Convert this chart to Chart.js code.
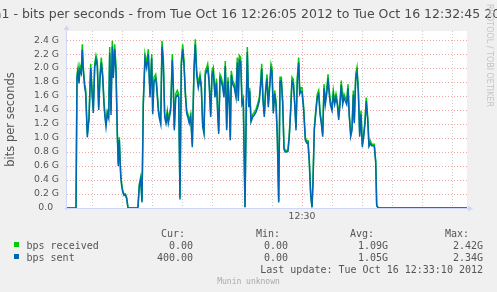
<!DOCTYPE html>
<html>
<head>
<meta charset="utf-8">
<script src="https://cdn.jsdelivr.net/npm/chart.js"></script>
<style>
  html, body { margin: 0; padding: 0; background: #f0f0f0; }
  canvas { display: block; }
</style>
</head>
<body>
<canvas id="myChart" width="497" height="292"></canvas>
<script>
// texts
var titleText = 'eth1 - bits per seconds - from Tue Oct 16 12:26:05 2012 to Tue Oct 16 12:32:45 2012';
var yAxisTitle = 'bits per seconds';
var creditText = 'RRDTOOL / TOBI OETIKER';
var footerText = 'Munin unknown';
var lastUpdate = 'Last update: Tue Oct 16 12:33:10 2012';

// legend
var seriesNames = ['bps received', 'bps sent'];
var seriesColors = ['#00cc00', '#0066b3'];
var statHeads = ['Cur:', 'Min:', 'Avg:', 'Max:'];
var statsReceived = ['0.00', '0.00', '1.09G', '2.42G'];
var statsSent = ['400.00', '0.00', '1.05G', '2.34G'];

// ticks: seconds after 12:26:05, values in G
var xGridSecs = [25, 55, 85, 115, 145, 175, 205, 235, 265, 295, 325, 355, 385];
var xMajorSec = 235;
var xMajorLabel = '12:30';
var yGridValues = [0, 0.1, 0.2, 0.3, 0.4, 0.5, 0.6, 0.7, 0.8, 0.9, 1.0, 1.1, 1.2,
  1.3, 1.4, 1.5, 1.6, 1.7, 1.8, 1.9, 2.0, 2.1, 2.2, 2.3, 2.4, 2.5];
var yTickLabels = ['0.0  ', '0.2 G', '0.4 G', '0.6 G', '0.8 G', '1.0 G', '1.2 G',
  '1.4 G', '1.6 G', '1.8 G', '2.0 G', '2.2 G', '2.4 G'];

// data (seconds after 12:26:05, Gbit/s)
var secs = [0, 9, 10, 11, 12, 13, 14.3, 15.3, 16.3, 17.7,
  18.7, 20.3, 22, 23.7, 25.3, 26.3, 27.7, 29, 30.3, 31.7,
  33, 34.3, 35.7, 37, 38, 39, 40.3, 41.7, 42.7, 44,
  45.3, 46.3, 47.7, 49, 50.3, 51.3, 52.3, 53.7, 54.7, 55.7,
  57, 58.3, 59.7, 61, 70, 71, 72.3, 73.7, 75, 76.3,
  78, 79.7, 81.3, 83, 84.7, 85.7, 87, 88.7, 89.7, 91.3,
  92.3, 93.7, 95, 96.3, 97.7, 99, 100.3, 101.3, 102.3, 103.7,
  105.3, 106.3, 107.3, 108.7, 110.3, 111.7, 113, 114.3, 115.7, 117,
  118.3, 119.7, 121, 122.3, 123.7, 125.3, 127, 128.3, 129.7, 131.3,
  133, 134.3, 135.7, 137, 138.3, 139.7, 140.7, 142, 143.7, 145,
  146.3, 148, 149.5, 150.7, 151.7, 153, 154.3, 155.7, 157, 158.3,
  159.7, 161, 162.3, 163.3, 164.3, 165.7, 167.3, 169, 170.3, 171.3,
  172.3, 173.7, 175, 176.3, 178, 179.3, 180.3, 181.7, 182.7, 184,
  185.7, 187.3, 189, 190.7, 192.3, 193.7, 194.7, 196, 197.3, 198.7,
  200, 201.3, 202.7, 204, 205, 206.3, 207.7, 209, 210.3, 211.7,
  213, 214.3, 215.7, 217, 218.3, 219.7, 221, 222.3, 223.7, 225,
  226.3, 227.7, 229, 230.3, 231.7, 232.7, 234, 235, 236.7, 238.3,
  239.7, 241, 242.3, 243.7, 245, 246, 247.3, 248.7, 250.3, 251.7,
  253, 254.3, 255.7, 257, 258.3, 259.7, 261, 262, 263.3, 265,
  266.3, 267.7, 269, 270.3, 271.7, 273, 274.3, 275.7, 277, 278.3,
  279.7, 281, 282.3, 283.7, 285, 286.3, 287.3, 288.7, 290, 291.3,
  292.7, 294, 295.3, 296.7, 298, 299.3, 300.7, 302, 303.3, 304.7,
  306, 307.3, 308.7, 309.7, 310.7, 311.7, 400];

var received = [0, 0, 1.91, 2.01, 1.82, 2.03, 1.96, 2.34, 2.01, 1.77,
  1.70, 1.06, 1.30, 2.06, 1.63, 1.41, 2.06, 2.18, 2.10, 1.44,
  1.91, 2.15, 1.91, 1.53, 1.34, 1.20, 1.39, 1.34, 2.30, 1.39,
  2.39, 1.91, 2.34, 2.01, 1.10, 0.63, 1.01, 0.49, 0.34, 0.25,
  0.20, 0.20, 0.15, 0, 0, 0.02, 0.34, 0.44, 0.10, 1.53,
  2.20, 2.06, 2.27, 1.63, 2.20, 1.39, 1.87, 1.91, 1.77, 1.44,
  1.34, 1.25, 2.39, 2.15, 1.34, 1.25, 1.39, 1.25, 1.34, 1.44,
  2.20, 1.77, 1.15, 1.63, 1.68, 1.63, 0.15, 2.10, 2.34, 2.10,
  1.68, 1.39, 1.34, 1.25, 1.34, 0.91, 2.01, 2.41, 1.96, 1.77,
  1.91, 1.77, 1.20, 1.10, 1.96, 2.01, 2.06, 1.87, 1.34, 1.96,
  2.01, 1.63, 1.85, 1.39, 1.10, 1.91, 1.87, 1.77, 1.63, 2.10,
  1.15, 1.87, 1.53, 1.01, 1.96, 1.82, 1.77, 1.63, 2.15, 1.58,
  2.18, 2.15, 1.53, 1.58, 0.01, 1.53, 2.30, 1.49, 1.72, 1.27,
  1.34, 1.37, 1.41, 1.49, 1.58, 1.82, 2.06, 1.58, 1.34, 1.72,
  1.91, 1.49, 1.77, 2.06, 2.01, 1.39, 1.68, 1.53, 1.06, 0.10,
  1.87, 1.87, 1.53, 0.87, 0.82, 0.82, 0.84, 1.06, 1.44, 1.87,
  1.84, 1.53, 1.15, 1.87, 2.15, 1.68, 1.72, 1.72, 1.44, 1.01,
  0.96, 0.96, 0.68, 0.20, 0.01, 0.39, 1.15, 1.39, 1.63, 1.68,
  1.39, 1.25, 1.06, 1.77, 1.53, 1.68, 1.91, 1.72, 1.53, 1.44,
  1.68, 1.53, 1.63, 1.53, 1.30, 1.53, 1.82, 1.53, 1.63, 1.58,
  1.53, 1.77, 1.34, 1.06, 1.15, 1.68, 1.25, 1.91, 2.01, 1.72,
  1.06, 1.39, 0.91, 1.06, 1.25, 1.58, 1.30, 0.91, 0.96, 0.91,
  0.91, 0.91, 0.68, 0.05, 0.02, 0, 0];

var sent = [0, 0, 1.86, 1.95, 1.78, 1.97, 1.92, 2.26, 1.96, 1.72,
  1.64, 1.01, 1.27, 2.00, 1.58, 1.36, 2.01, 2.12, 2.03, 1.40,
  1.85, 2.08, 1.86, 1.47, 1.29, 1.16, 1.35, 1.28, 2.22, 1.33,
  2.31, 1.86, 2.27, 1.95, 1.05, 0.60, 0.97, 0.46, 0.31, 0.23,
  0.18, 0.19, 0.13, 0, 0, 0.01, 0.31, 0.41, 0.08, 1.47,
  2.13, 2.00, 2.20, 1.58, 2.14, 1.34, 1.81, 1.85, 1.72, 1.39,
  1.29, 1.20, 2.31, 2.08, 1.30, 1.21, 1.34, 1.21, 1.29, 1.39,
  2.12, 1.72, 1.11, 1.57, 1.62, 1.58, 0.12, 2.03, 2.27, 2.04,
  1.63, 1.35, 1.29, 1.21, 1.30, 0.87, 1.95, 2.34, 1.90, 1.72,
  1.85, 1.72, 1.16, 1.06, 1.90, 1.96, 1.99, 1.81, 1.30, 1.90,
  1.95, 1.58, 1.79, 1.34, 1.06, 1.85, 1.81, 1.72, 1.58, 2.03,
  1.11, 1.81, 1.48, 0.97, 1.90, 1.77, 1.72, 1.58, 2.08, 1.53,
  2.11, 2.09, 1.48, 1.53, 0.01, 1.47, 2.23, 1.44, 1.67, 1.23,
  1.30, 1.33, 1.37, 1.44, 1.53, 1.76, 1.99, 1.53, 1.30, 1.67,
  1.85, 1.44, 1.72, 1.99, 1.95, 1.35, 1.63, 1.48, 1.02, 0.08,
  1.81, 1.82, 1.48, 0.84, 0.80, 0.80, 0.81, 1.02, 1.39, 1.81,
  1.78, 1.48, 1.11, 1.81, 2.08, 1.63, 1.67, 1.66, 1.39, 0.97,
  0.93, 0.94, 0.65, 0.18, 0.01, 0.36, 1.11, 1.34, 1.58, 1.62,
  1.34, 1.21, 1.02, 1.71, 1.48, 1.63, 1.85, 1.67, 1.48, 1.39,
  1.62, 1.48, 1.58, 1.48, 1.26, 1.48, 1.76, 1.48, 1.58, 1.53,
  1.48, 1.71, 1.30, 1.02, 1.11, 1.62, 1.21, 1.84, 1.94, 1.67,
  1.02, 1.34, 0.87, 1.02, 1.21, 1.53, 1.26, 0.88, 0.92, 0.89,
  0.89, 0.88, 0.65, 0.03, 0.01, 0, 0];

var majorGrid = 'rgba(230, 90, 90, 0.55)';
var minorGrid = 'rgba(140, 140, 140, 0.45)';
var axisColor = '#cfd6f8';
var fontColor = '#555555';

function points(values) {
  return secs.map(function (s, i) { return { x: s, y: values[i] }; });
}

// background, axes with arrows, title and the munin legend
var muninLook = {
  id: 'muninLook',
  beforeDraw: function (chart) {
    var ctx = chart.ctx, a = chart.chartArea;
    ctx.save();
    ctx.fillStyle = '#f0f0f0';
    ctx.fillRect(0, 0, chart.width, chart.height);
    ctx.fillStyle = '#ffffff';
    ctx.fillRect(a.left - 1, a.top, a.right - a.left + 1, a.bottom - a.top);
    ctx.restore();
  },
  afterDatasetsDraw: function (chart) {
    var ctx = chart.ctx, a = chart.chartArea;
    var x0 = a.left - 0.5, y0 = a.bottom + 0.5;
    ctx.save();
    ctx.strokeStyle = axisColor;
    ctx.fillStyle = axisColor;
    ctx.lineWidth = 1;
    ctx.beginPath();
    ctx.moveTo(x0, y0 + 2);
    ctx.lineTo(x0, a.top - 1);
    ctx.moveTo(x0 - 2, y0);
    ctx.lineTo(a.right + 1, y0);
    ctx.stroke();
    ctx.beginPath();
    ctx.moveTo(x0 - 3, a.top - 1);
    ctx.lineTo(x0 + 3, a.top - 1);
    ctx.lineTo(x0, a.top - 6);
    ctx.closePath();
    ctx.fill();
    ctx.beginPath();
    ctx.moveTo(a.right + 1, y0 - 3);
    ctx.lineTo(a.right + 1, y0 + 3);
    ctx.lineTo(a.right + 6, y0);
    ctx.closePath();
    ctx.fill();
    ctx.restore();
  },
  afterDraw: function (chart) {
    var ctx = chart.ctx;
    ctx.save();
    // title
    ctx.fillStyle = '#4a4a4a';
    ctx.font = '12.5px "DejaVu Sans"';
    ctx.textAlign = 'center';
    ctx.textBaseline = 'alphabetic';
    ctx.fillText(titleText, chart.width / 2, 17.5);

    // rrdtool credit
    ctx.save();
    ctx.translate(489, 4);
    ctx.rotate(Math.PI / 2);
    ctx.fillStyle = '#c4c4c4';
    ctx.font = '8px "DejaVu Sans"';
    ctx.textAlign = 'left';
    ctx.textBaseline = 'middle';
    ctx.fillText(creditText, 0, 0);
    ctx.restore();

    // legend
    ctx.font = '10px "DejaVu Sans Mono"';
    ctx.fillStyle = fontColor;
    ctx.textAlign = 'right';
    var headX = [185, 280, 374, 469];
    var valX = [193, 288, 388, 483];
    statHeads.forEach(function (h, i) { ctx.fillText(h, headX[i], 237); });
    var rows = [statsReceived, statsSent];
    var rowY = [249, 261];
    rows.forEach(function (vals, r) {
      ctx.fillStyle = seriesColors[r];
      ctx.fillRect(14, rowY[r] - 7, 5, 5);
      ctx.fillStyle = fontColor;
      ctx.textAlign = 'left';
      ctx.fillText(seriesNames[r], 26.5, rowY[r]);
      ctx.textAlign = 'right';
      vals.forEach(function (v, i) { ctx.fillText(v, valX[i], rowY[r]); });
    });
    ctx.fillText(lastUpdate, 483, 273);

    ctx.font = '8px "DejaVu Sans Mono"';
    ctx.fillStyle = '#aaaaaa';
    ctx.textAlign = 'center';
    ctx.fillText(footerText, 248.5, 283.5);
    ctx.restore();
  }
};

var ctx = document.getElementById('myChart');
var myChart = new Chart(ctx, {
  type: 'line',
  data: {
    datasets: [
      {
        label: seriesNames[0],
        data: points(received),
        borderColor: seriesColors[0],
        borderWidth: 1.5,
        pointRadius: 0,
        tension: 0,
        fill: false,
        order: 1
      },
      {
        label: seriesNames[1],
        data: points(sent),
        borderColor: seriesColors[1],
        borderWidth: 1.5,
        pointRadius: 0,
        tension: 0,
        fill: false,
        order: 0
      }
    ]
  },
  options: {
    responsive: false,
    animation: false,
    events: [],
    layout: { padding: { top: 31, right: 30, left: 0, bottom: 0 } },
    plugins: {
      legend: { display: false },
      tooltip: { enabled: false },
      title: { display: false }
    },
    scales: {
      x: {
        type: 'linear',
        min: 0,
        max: 400,
        afterBuildTicks: function (scale) {
          scale.ticks = xGridSecs.map(function (v) { return { value: v }; });
        },
        afterFit: function (scale) { scale.height = 84; },
        grid: {
          drawTicks: false,
          lineWidth: 1,
          color: function (c) {
            return c.tick && c.tick.value === xMajorSec ? majorGrid : minorGrid;
          }
        },
        border: { display: false, dash: [1, 2] },
        ticks: {
          autoSkip: false,
          maxRotation: 0,
          padding: 3,
          color: fontColor,
          font: { family: 'DejaVu Sans', size: 9.3 },
          callback: function (v) { return v === xMajorSec ? xMajorLabel : ''; }
        }
      },
      y: {
        min: 0,
        max: 2.53,
        afterBuildTicks: function (scale) {
          scale.ticks = yGridValues.map(function (v) { return { value: v }; });
        },
        afterFit: function (scale) { scale.width = 67; },
        grid: {
          drawTicks: false,
          lineWidth: 1,
          color: function (c) {
            if (!c.tick) return minorGrid;
            return Math.round(c.tick.value * 10) % 2 === 0 ? majorGrid : minorGrid;
          }
        },
        border: { display: false, dash: [1, 2] },
        ticks: {
          padding: 8,
          color: fontColor,
          font: { family: 'DejaVu Sans', size: 9.3 },
          callback: function (v) {
            var k = Math.round(v * 10);
            return k % 2 === 0 ? yTickLabels[k / 2] : '';
          }
        },
        title: {
          display: true,
          text: yAxisTitle,
          color: fontColor,
          font: { family: 'DejaVu Sans', size: 11.5 },
          padding: { top: 4, bottom: 0 }
        }
      }
    }
  },
  plugins: [muninLook]
});
</script>
</body>
</html>
